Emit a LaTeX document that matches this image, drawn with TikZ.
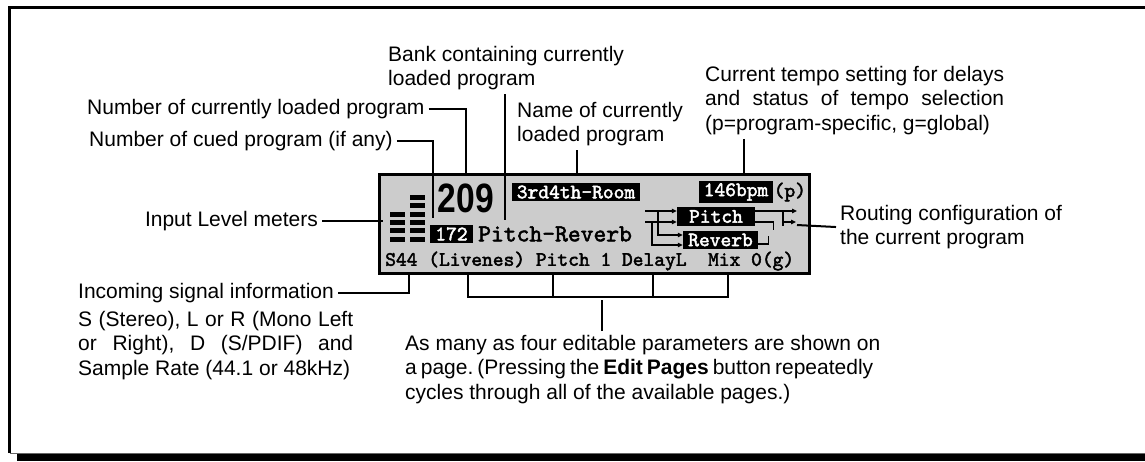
\documentclass[tikz,border=0pt]{standalone}
\usepackage{fontspec}
\setmainfont{Liberation Sans}
\newfontfamily\lcdfont{lmmono10-regular.otf}[FakeBold=2.2]
\usepackage{graphicx}
\usetikzlibrary{arrows.meta,positioning}

\tikzset{
  lbl/.style={font=\fontsize{21}{24.5}\selectfont, inner sep=0pt, align=left},
  lead/.style={line width=2pt, shorten <=4pt},
  lcdtxt/.style={font=\lcdfont\fontsize{20.5}{22}\selectfont, inner sep=0pt},
  inv/.style={lcdtxt, fill=black, text=white, inner xsep=5pt, inner ysep=2.5pt},
  route/.style={line width=1.2pt, -{Triangle[length=5pt,width=4.5pt]}},
  wire/.style={line width=1.2pt}
}

\begin{document}
\begin{tikzpicture}[x=1pt,y=-1pt]
  \useasboundingbox (0,0) rectangle (1145,461);
  \frenchspacing

  % Frame with shadow
  \fill (17,454) rectangle (1145,461);
  \draw[line width=3pt] (9.5,453) -- (9.5,7.5) -- (1145,7.5);
  \draw[line width=0.8pt, black!60] (9.5,453) -- (1145,453);

  % Display
  \node[draw, line width=3pt, fill=black!20, minimum width=430, minimum height=99,
        anchor=north west, inner sep=0pt] (lcd) at (378,173) {};

  % Input meters
  \foreach \k in {0,...,5}
    \fill (410,195+8.3*\k) rectangle (425,200+8.3*\k);
  \foreach \k in {2,...,5}
    \fill (390,195+8.3*\k) rectangle (405,200+8.3*\k);

  % Program number, cue and name
  \node[font=\bfseries\fontsize{41}{41}\selectfont, inner sep=0pt] (prognum) at (466,198)
    {\scalebox{0.82}[1]{209}};
  \node[inv] (cue) at (451.5,234) {172};
  \node[lcdtxt, font=\lcdfont\fontsize{24.4}{26}\selectfont, anchor=west] (progname)
    at (478,234) {Pitch-Reverb};
  \node[inv] (bankname) at (576,192) {3rd4th-Room};
  \node[inv] (bpm) at (736,192) {146bpm};
  \node[lcdtxt, anchor=west] (tempoflag) at (bpm.east) {(p)};
  \node[lcdtxt, anchor=west] (params) at (385,261) {S44 (Livenes) Pitch 1 DelayL~~Mix 0(g)};

  % Routing
  \node[inv, minimum width=78, minimum height=19, inner sep=0pt] (pitch) at (716,216.5) {Pitch};
  \node[inv, minimum width=75, minimum height=18, inner sep=0pt] (reverb) at (720.5,240) {Reverb};
  \coordinate (inL) at (645,211);
  \coordinate (inR) at (645,222);
  \coordinate (outL) at (797,211);
  \coordinate (outR) at (796,222);
  \draw[route] (inL) -- (inL -| pitch.west);
  \draw[route] (inR) -- (inR -| pitch.west);
  \draw[route] (658,211) |- ([yshift=5]reverb.west);
  \draw[route] (652,222) |- ([yshift=-5]reverb.west);
  \draw[route] (pitch.east |- inL) -- (outL);
  \draw[wire] (pitch.east |- inR) -- ++(18,0) -- ++(0,8);
  \draw[wire] ([yshift=-4]reverb.east) -- ++(10,0) -- ++(0,-8);
  \draw[wire] (783,211) -- (783,226);
  \draw[route] (783,222) -- (outR);

  % Labels
  \node[lbl, anchor=north west] (bank) at (388,46) {Bank containing currently\\loaded program};
  \node[lbl, anchor=west] (numloaded) at (87,109) {Number of currently loaded program};
  \node[lbl, anchor=west] (cued) at (89,141) {Number of cued program (if any)};
  \node[lbl, anchor=north west] (name) at (517,102) {Name of currently\\loaded program};
  \node[lbl, anchor=north west] (tempo) at (705,66)
    {\makebox[299pt][s]{Current tempo setting for delays}\\
     \makebox[299pt][s]{and status of tempo selection}\\
     (p=program-specific, g=global)};
  \node[lbl, anchor=east] (levels) at (318,221) {Input Level meters};
  \node[lbl, anchor=north west] (routing) at (840,205) {Routing configuration of\\the current program};
  \node[lbl, anchor=west] (sigtitle) at (78,293) {Incoming signal information};
  \node[lbl, anchor=north west] (sigtext) at (78,311)
    {\makebox[275pt][s]{S (Stereo), L or R (Mono Left}\\
     \makebox[275pt][s]{or Right), D (S/PDIF) and}\\
     Sample Rate (44.1 or 48kHz)};
  \node[lbl, anchor=north west] (pages) at (405,335)
    {As many as four editable parameters are shown on\\
     \makebox[468pt][s]{a page. (Pressing the \textbf{Edit Pages} button repeatedly}\\
     cycles through all of the available pages.)};

  % Leaders
  \coordinate (t209) at (466,173);
  \coordinate (tcue) at (433,218);
  \coordinate (tbank) at (505,220);
  \coordinate (tname) at (577,173);
  \coordinate (ttempo) at (744,173);
  \coordinate (tlevel) at (383,221);
  \coordinate (troute) at (797,225);
  \coordinate (tsig) at (409,272);
  \coordinate (tpage) at (602,300);
  \draw[lead] (numloaded.east) -| (t209);
  \draw[lead] (cued.east) -| (tcue);
  \draw[lead] (tbank |- bank.south) -- (tbank);
  \draw[lead] (tname |- name.south) -- (tname);
  \draw[lead] (ttempo |- tempo.south) -- (ttempo);
  \draw[lead] (levels.east) -- (tlevel);
  \draw[lead] (routing.west) -- (troute);
  \draw[lead] (sigtitle.east) -| (tsig);

  % Parameter bracket
  \draw[line width=2pt] (468,272) |- (728,297) -- (728,272);
  \draw[line width=2pt] (553,272) -- (553,297);
  \draw[line width=2pt] (653,272) -- (653,297);
  \draw[lead] (tpage |- pages.north) -- (tpage);
\end{tikzpicture}
\end{document}
